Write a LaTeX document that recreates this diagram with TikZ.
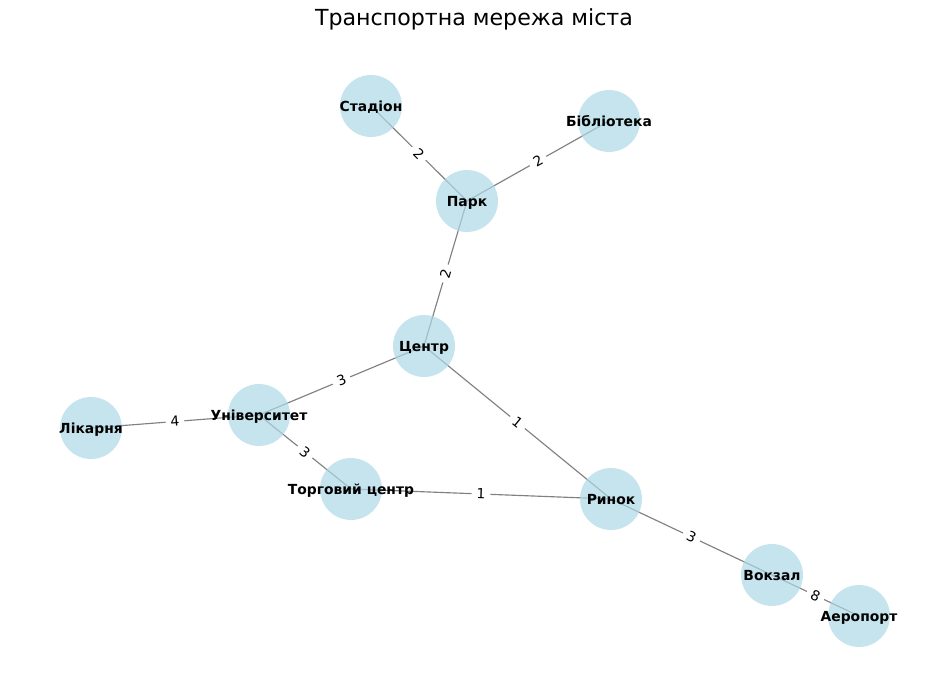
\documentclass[tikz,border=0pt]{standalone}
\usepackage{fontspec}
\setmainfont{DejaVu Sans}
\usetikzlibrary{backgrounds}
\definecolor{stopblue}{RGB}{173,216,230}
\definecolor{roadgray}{RGB}{128,128,128}
\newcommand{\stoptext}[1]{\raisebox{-3pt}[0pt][0pt]{\makebox[0pt]{#1}}}

\begin{document}
\begin{tikzpicture}[x=0.02cm, y=-0.02cm,
    stop/.style={circle, fill=stopblue, fill opacity=0.7, text opacity=1,
                 minimum size=1.24cm, inner sep=0pt,
                 font=\fontsize{7.9}{9}\selectfont\bfseries},
    road/.style={draw=roadgray, line width=0.65pt},
    wt/.style={fill=white, inner sep=2.8pt, sloped, midway,
               font=\fontsize{7.9}{9}\selectfont}
  ]
    \useasboundingbox (0,0) rectangle (950,679);

    %% Title
    \node[font=\fontsize{12.6}{15}\selectfont] (title) at (474,19)
      {Транспортна мережа міста};

    %% Stops
    \node[stop] (stad) at (371,106) {\stoptext{Стадіон}};
    \node[stop] (bibl) at (609,121) {\stoptext{Бібліотека}};
    \node[stop] (park) at (467,201) {\stoptext{Парк}};
    \node[stop] (cent) at (424,346) {\stoptext{Центр}};
    \node[stop] (univ) at (259,415) {\stoptext{Університет}};
    \node[stop] (likr) at (91,428)  {\stoptext{Лікарня}};
    \node[stop] (torg) at (351,489) {\stoptext{Торговий центр}};
    \node[stop] (rynk) at (611,499) {\stoptext{Ринок}};
    \node[stop] (vokz) at (772,575) {\stoptext{Вокзал}};
    \node[stop] (aero) at (859,616) {\stoptext{Аеропорт}};

    %% Roads with travel times
    \begin{pgfonlayer}{background}
      \draw[road] (stad.center) -- (park.center) node[wt] {2};
      \draw[road] (bibl.center) -- (park.center) node[wt] {2};
      \draw[road] (park.center) -- (cent.center) node[wt] {2};
      \draw[road] (cent.center) -- (univ.center) node[wt] {3};
      \draw[road] (cent.center) -- (rynk.center) node[wt] {1};
      \draw[road] (univ.center) -- (likr.center) node[wt] {4};
      \draw[road] (univ.center) -- (torg.center) node[wt] {3};
      \draw[road] (torg.center) -- (rynk.center) node[wt] {1};
      \draw[road] (rynk.center) -- (vokz.center) node[wt] {3};
      \draw[road] (vokz.center) -- (aero.center) node[wt] {8};
    \end{pgfonlayer}
  \end{tikzpicture}
\end{document}
